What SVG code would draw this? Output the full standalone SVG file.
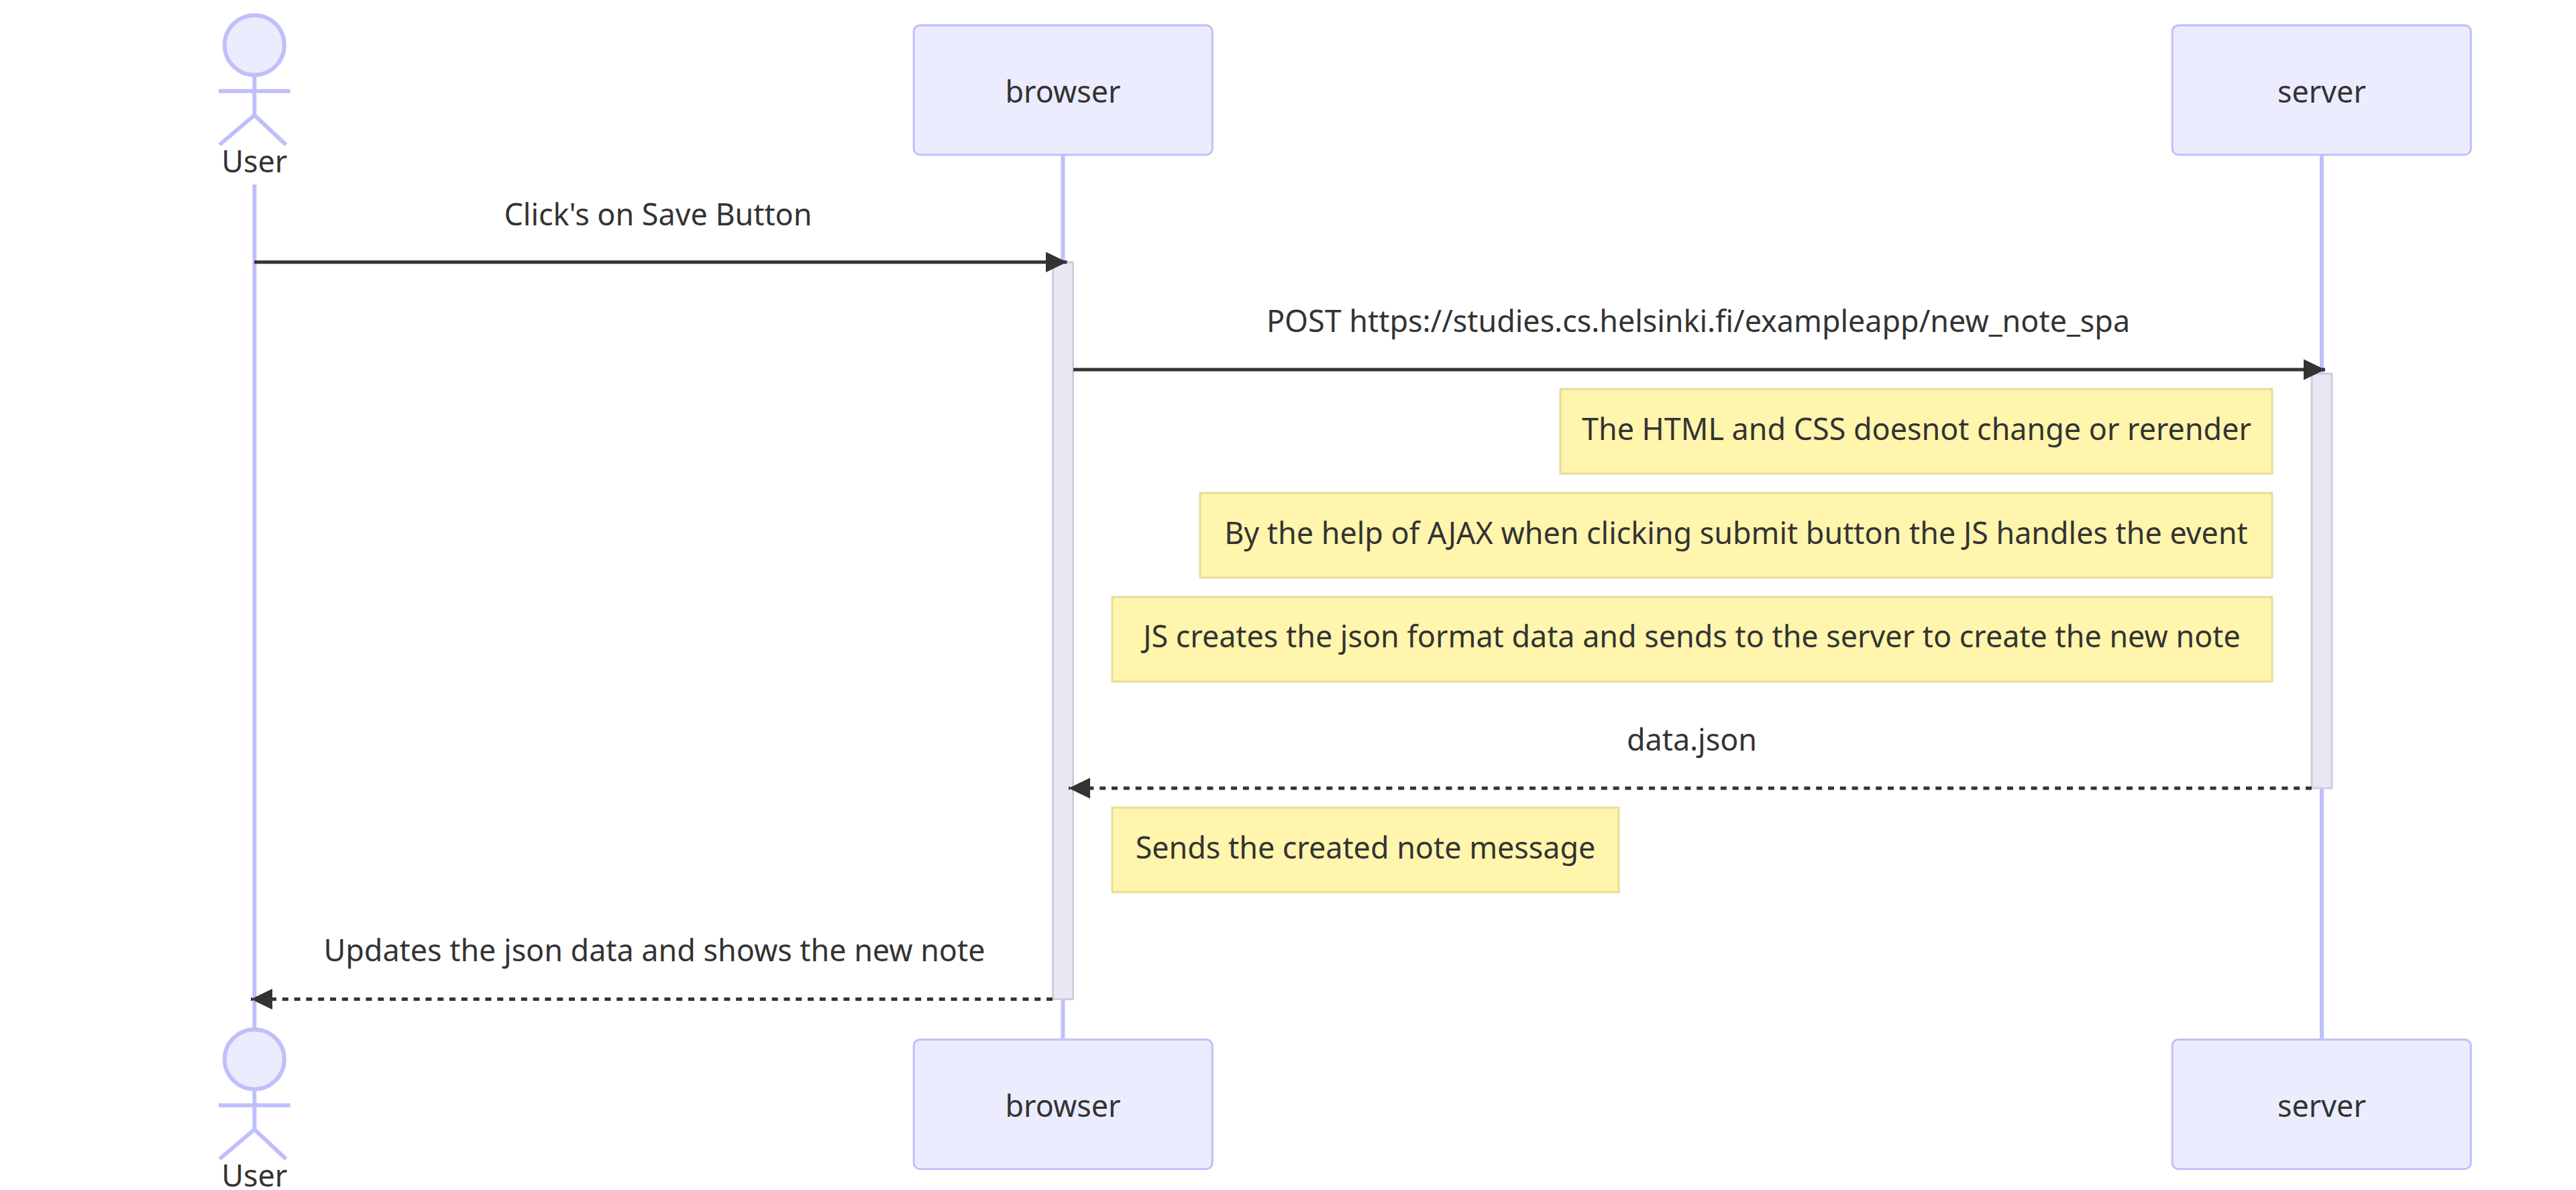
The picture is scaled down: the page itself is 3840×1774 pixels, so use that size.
<svg xmlns="http://www.w3.org/2000/svg" width="3840" height="1774" viewBox="0 0 3840 1774">
<defs>
<marker id="ah" markerUnits="userSpaceOnUse" markerWidth="34" markerHeight="34" refX="32" refY="16" orient="auto"><path d="M0 0.500L32 16L0 31.500Z" fill="#333"/></marker>
<g id="stick"><circle cx="0" cy="0" r="44.500" class="head"/><path class="limb" d="M0 44V104.500M-53.500 68.500H53.500M0 104.500L-52 148.500M0 104.500L47 148.500"/></g>
</defs>
<style>
text{font-family:"Noto Sans","Open Sans",sans-serif;font-size:44.850px;fill:#333;text-anchor:middle}
.actor{fill:#ececff;stroke:#bfbffb;stroke-width:3}
.head{fill:#ececff;stroke:#bfbffb;stroke-width:6}
.limb{fill:none;stroke:#bfbffb;stroke-width:6}
.life{stroke:#bfbffb;stroke-width:6;fill:none}
.act{fill:#e8e8f2;stroke:#cdcde0;stroke-width:3}
.note{fill:#fff5ad;stroke:#e6dd94;stroke-width:3}
.msg{stroke:#333;stroke-width:5;fill:none;marker-end:url(#ah)}
.dash{stroke-dasharray:9 8.800}
</style>
<rect width="3840" height="1774" fill="#fff"/>
<g id="lifelines">
<path class="life" d="M379.300 275V1532"/>
<path class="life" d="M1584.500 231V1548"/>
<path class="life" d="M3461 231V1548"/>
</g>
<g id="user-top"><use href="#stick" x="379.300" y="67.200"/><text x="379.300" y="256.500">User</text></g>
<g id="browser-top"><rect class="actor" x="1362.200" y="37.700" width="445" height="193" rx="9"/><text x="1584.500" y="152.500">browser</text></g>
<g id="server-top"><rect class="actor" x="3238.200" y="37.700" width="445" height="193" rx="9"/><text x="3461" y="152.500">server</text></g>
<g id="activations">
<rect class="act" x="1569.500" y="391" width="30" height="1098.500"/>
<rect class="act" x="3446" y="557" width="30" height="618"/>
</g>
<g id="note-1"><rect class="note" x="2326" y="580" width="1061" height="126"/><text x="2857" y="656">The HTML and CSS doesnot change or rerender</text></g>
<g id="note-2"><rect class="note" x="1789" y="735" width="1598" height="126"/><text x="2588" y="811">By the help of AJAX when clicking submit button the JS handles the event</text></g>
<g id="note-3"><rect class="note" x="1658" y="890" width="1729" height="126"/><text x="2522" y="965">JS creates the json format data and sends to the server to create the new note</text></g>
<g id="note-4"><rect class="note" x="1658" y="1204" width="755" height="126"/><text x="2035.500" y="1280">Sends the created note message</text></g>
<g id="connectors">
<path class="msg" d="M379 390.700H1590.500"/>
<path class="msg" d="M1600 551H3466"/>
<path class="msg dash" d="M3446 1175H1593"/>
<path class="msg dash" d="M1569 1489.600H374"/>
</g>
<g id="labels">
<text x="981" y="336">Click's on Save Button</text>
<text x="2531.500" y="495">POST https://studies.cs.helsinki.fi/exampleapp/new_note_spa</text>
<text x="2522" y="1119">data.json</text>
<text x="975.500" y="1433">Updates the json data and shows the new note</text>
</g>
<g id="user-bottom"><use href="#stick" x="379.300" y="1579.200"/><text x="379.300" y="1768.500">User</text></g>
<g id="browser-bottom"><rect class="actor" x="1362.200" y="1549.700" width="445" height="193" rx="9"/><text x="1584.500" y="1664.500">browser</text></g>
<g id="server-bottom"><rect class="actor" x="3238.200" y="1549.700" width="445" height="193" rx="9"/><text x="3461" y="1664.500">server</text></g>
</svg>
